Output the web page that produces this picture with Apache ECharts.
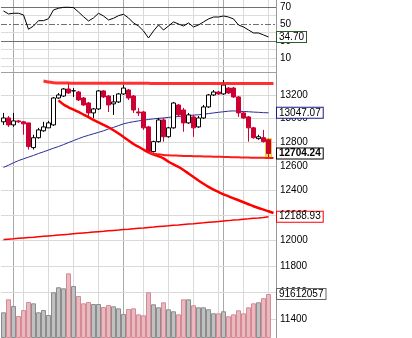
<!DOCTYPE html>
<html><head><meta charset="utf-8">
<script src="https://cdn.jsdelivr.net/npm/echarts@6/dist/echarts.min.js"></script>
<style>html,body{margin:0;padding:0;background:#fff}#c{width:412px;height:338px}</style>
</head><body><div id="c"></div>
<script>
// ---- data ----
const dates = ['02-28','02-29','03-01','03-02','03-05','03-06','03-07','03-08','03-09','03-12','03-13','03-14','03-15','03-16','03-19','03-20','03-21','03-22','03-23','03-26','03-27','03-28','03-29','03-30','04-02','04-03','04-04','04-05','04-09','04-10','04-11','04-12','04-13','04-16','04-17','04-18','04-19','04-20','04-23','04-24','04-25','04-26','04-27','04-30','05-01','05-02','05-03','05-04','05-07','05-08','05-09','05-10','05-11','05-14',' '];
// [open, close, low, high]
const ohlc = [
[12970,13003,12944,13046],[13003,12944,12927,13020],[12944,12978,12927,13046],[12978,12970,12961,12986],
[12970,12953,12861,12978],[12961,12762,12737,12961],[12753,12836,12737,12861],[12836,12902,12828,12919],
[12894,12927,12886,12970],[12919,12961,12919,12978],[12944,13174,12936,13183],[13174,13200,13166,13217],
[13191,13252,13183,13260],[13252,13217,13209,13304],[13235,13237,13183,13260],[13226,13157,13149,13235],
[13174,13114,13106,13183],[13131,13046,13003,13140],[13046,13080,13003,13089],[13080,13235,13071,13243],
[13235,13183,13174,13243],[13191,13114,13054,13200],[13123,13140,13029,13200],[13140,13209,13131,13217],
[13209,13260,13200,13286],[13243,13174,13157,13252],[13191,13071,13046,13200],[13054,13046,13020,13089],
[13054,12919,12902,13063],[12927,12720,12712,12936],[12720,12803,12712,12811],[12803,12986,12795,13003],
[12986,12844,12803,13003],[12844,12919,12836,12927],[12919,13131,12911,13140],[13114,13029,13012,13123],
[13071,12961,12886,13089],[12961,13029,12953,13046],[13012,12919,12844,13029],[12927,13003,12919,13020],
[13003,13097,12995,13114],[13097,13200,13089,13209],[13200,13226,13191,13243],[13226,13209,13200,13235],
[13209,13286,13200,13330],[13260,13217,13209,13269],[13260,13183,13174,13269],[13183,13046,13012,13191],
[13046,13003,12995,13054],[13012,12919,12803,13020],[12919,12836,12828,12927],[12828,12844,12819,12861],
[12836,12803,12795,12902],[12819,12704.24,12671,12828]
];
const volumes = [53500000,80600000,66600000,45800000,58300000,75000000,72200000,53500000,58300000,47900000,
95100000,105600000,103500000,134700000,108300000,87400000,72200000,75000000,70800000,70800000,
64500000,68700000,66000000,61800000,50000000,60400000,61800000,49300000,47300000,95100000,
70200000,63900000,74300000,59800000,55600000,49300000,80600000,80600000,68100000,63900000,
63900000,59800000,51400000,51400000,55600000,45200000,49300000,57700000,51400000,63900000,
72200000,74300000,83000000,91612057];
const rsi = [65.3,61.8,62.6,62.6,60.6,43.8,47.6,53.9,53.9,56.2,66.5,68.5,69.6,69.6,69.2,64.1,58.6,53.5,57.1,62.6,
59.4,54.7,56.7,59.8,61.4,57.1,51.2,47.6,41.8,33.5,41.8,48.8,42.9,47.6,52.4,50.0,47.6,51.2,46.5,48.8,
52.4,55.9,58.2,58.2,59.4,58.2,55.9,48.8,46.5,42.9,39.4,39.4,37.1,34.70];
const maBlue = [12589,12607,12627,12645,12660,12674,12688,12704,12718,12733,12748,12762,12778,12795,12812,12828,12844,12856,12869,12881,
12894,12910,12923,12938,12953,12963,12971,12978,12984,12990,12995,13000,13003,13008,13012,13015,13020,13024,13027,13030,
13035,13040,13046,13051,13056,13061,13063,13061,13058,13056,13053,13051,13048,13047.07];
const ma200 = [12008,12011,12014,12018,12021,12024,12027,12031,12034,12037,12040,12044,12047,12050,12054,12057,12060,12063,12067,12070,
12073,12077,12080,12083,12087,12090,12094,12097,12100,12104,12107,12111,12114,12117,12121,12124,12128,12131,12134,12138,
12141,12145,12148,12151,12155,12158,12162,12165,12169,12172,12176,12179,12183,12188.93];
const arcLine = [null,null,null,null,null,null,null,null,null,null,null,
13153,13118,13094,13074,13054,13032,13010,12987,12966,12945,12924,12899,12872,12842,12813,12783,12760,12736,12713,12696,
12681,12663,12636,12613,12593,12568,12539,12510,12482,12455,12430,12408,12388,12369,12353,12337,12321,12305,12289,12273,
12259,12246,12233,12219];
const supportLine = [null,null,null,null,null,null,null,null,null,null,null,null,null,null,null,null,null,null,null,null,
null,null,null,null,null,null,null,null,null,
12708,12702,12697,12692,12689,12688,12686,12684,12683,12682,12681,12680,12679,12678,12677,12675,12674,12673,12672,12671,
12670,12669,12668,12668,12667,12666];
const resistLine = [null,null,null,null,null,null,null,null,
13321,13312,13307,13304,13303,13303,13302,13302,13302,13302,13301,13301,13301,13301,13301,13301,13301,13301,13301,13301,
13301,13301,13300,13300,13300,13300,13300,13300,13300,13300,13300,13300,13300,13300,13300,13300,13300,13300,13300,13300,
13300,13300,13300,13300,13300,13300,13300];
const priceTicks = [11400,11600,11800,12000,12200,12400,12600,12800,13000,13200];
const rsiTicks = [70,50,30,10];
const rsiGridLevels = [0,10,20,30,40,50,60,70];
const monthDays = ['03-01','04-02','05-01'];
const weekDays = ['03-05','03-12','03-19','03-26','04-09','04-16','04-23','04-30','05-07','05-14'];
const tagTexts = {rsi: '34.70', ma50: '13047.07', close: '12704.24', ma200: '12188.93', vol: '91612057'};

// ---- chart ----
const FONT = '"Liberation Sans", Arial, sans-serif';
const chart = echarts.init(document.getElementById('c'));
const lastIdx = ohlc.length - 1;
const EMPTY = ['-', '-', '-', '-'];
// highlight box spans the whole range (high..low) of the latest candle
const highlightData = ohlc.map((d, i) => i === lastIdx ? [d[3], d[2], d[2], d[3]] : EMPTY);
const volData = volumes.map((v, i) => {
  const up = ohlc[i][1] >= ohlc[i][0];
  return {value: v, itemStyle: up
    ? {color: '#c0c0c0', borderColor: '#8c8c8c', borderWidth: 1}
    : {color: '#e9b9c0', borderColor: '#d68a95', borderWidth: 1}};
});

const vGrid = [
  ...weekDays.map(d => ({xAxis: d, lineStyle: {color: '#d9d9d9', width: 1, type: 'solid'}, label: {show: false}})),
  ...monthDays.map(d => ({xAxis: d, lineStyle: {color: '#a9a9a9', width: 1, type: 'solid'}, label: {show: false}}))
];
const lblStyle = {show: true, position: 'end', distance: 4, color: '#000', fontSize: 10, fontFamily: FONT};
const priceGrid = [
  ...priceTicks.map(v => ({yAxis: v, lineStyle: {color: '#d9d9d9', width: 1, type: 'solid'},
    label: Object.assign({}, lblStyle, {formatter: String(v)})})),
  {yAxis: 13400, lineStyle: {color: '#a0a0a0', width: 1, type: 'solid'}, label: {show: false}}
];
const rsiGrid = rsiGridLevels.map(v => {
  let ls = {color: '#dcdcdc', width: 1, type: 'solid'};
  if (v === 70 || v === 30) ls = {color: '#707070', width: 1, type: 'solid'};
  if (v === 50) ls = {color: '#707070', width: 1, type: [6, 2, 2, 2]};
  return {yAxis: v, lineStyle: ls,
    label: rsiTicks.includes(v) ? Object.assign({}, lblStyle, {formatter: String(v)}) : {show: false}};
});

function gridMark(data) {
  return {silent: true, symbol: ['none', 'none'], animation: false, z: 0, data: data, label: lblStyle};
}
function tagMark(value, text, border, bold) {
  return {silent: true, symbol: ['none', 'none'], animation: false, z: 6,
    lineStyle: {color: 'rgba(0,0,0,0)', width: 0},
    data: [{yAxis: value}],
    label: {show: true, position: 'end', distance: 1, formatter: text, color: '#000',
      fontSize: 10, fontFamily: FONT, fontWeight: bold ? 'bold' : 'normal',
      backgroundColor: '#fff', borderColor: border, borderWidth: 1, padding: [0, 2, 0, 2], lineHeight: 10}};
}

const axisCommon = {type: 'category', data: dates, boundaryGap: true,
  axisLine: {show: false}, axisTick: {show: false}, axisLabel: {show: false}, splitLine: {show: false}};

chart.setOption({
  animation: false,
  backgroundColor: '#ffffff',
  grid: [
    {left: 1, right: 136, top: 0, height: 72},
    {left: 1, right: 136, top: 72, bottom: 0}
  ],
  xAxis: [
    Object.assign({gridIndex: 0}, axisCommon),
    Object.assign({gridIndex: 1}, axisCommon)
  ],
  yAxis: [
    {gridIndex: 0, type: 'value', min: -6.5, max: 78.2, position: 'right',
      axisLine: {show: true, lineStyle: {color: '#999', width: 1}}, axisTick: {show: false},
      axisLabel: {show: false}, splitLine: {show: false}},
    {gridIndex: 1, type: 'log', logBase: 10, min: 11259, max: 13400, position: 'right',
      axisLine: {show: true, lineStyle: {color: '#999', width: 1}}, axisTick: {show: false},
      axisLabel: {show: false}, splitLine: {show: false}, minorTick: {show: false}, minorSplitLine: {show: false}},
    {gridIndex: 1, type: 'value', min: 0, max: 553800000, show: false, splitLine: {show: false}}
  ],
  series: [
    {name: 'rsiGrid', type: 'line', xAxisIndex: 0, yAxisIndex: 0, data: [], z: 0, silent: true,
      markLine: gridMark([...vGrid, ...rsiGrid])},
    {name: 'priceGrid', type: 'line', xAxisIndex: 1, yAxisIndex: 1, data: [], z: 0, silent: true,
      markLine: gridMark([...vGrid, ...priceGrid])},
    {name: 'RSI', type: 'line', xAxisIndex: 0, yAxisIndex: 0, data: rsi, showSymbol: false, z: 3,
      lineStyle: {color: '#000', width: 1}, markLine: tagMark(rsi[lastIdx], tagTexts.rsi, '#2b5b2b', false)},
    {name: 'Volume', type: 'bar', xAxisIndex: 1, yAxisIndex: 2, data: volData, barCategoryGap: '0%', z: 1,
      markLine: tagMark(volumes[lastIdx], tagTexts.vol, '#666666', false)},
    {name: 'MA200', type: 'line', xAxisIndex: 1, yAxisIndex: 1, data: ma200, showSymbol: false, z: 2,
      lineStyle: {color: '#ff0000', width: 1.5}, markLine: tagMark(ma200[lastIdx], tagTexts.ma200, '#ff0000', false)},
    {name: 'MA50', type: 'line', xAxisIndex: 1, yAxisIndex: 1, data: maBlue, showSymbol: false, z: 2,
      lineStyle: {color: '#2a2a9c', width: 1}, markLine: tagMark(maBlue[lastIdx], tagTexts.ma50, '#1a1a8c', false)},
    {name: 'Highlight', type: 'candlestick', xAxisIndex: 1, yAxisIndex: 1, data: highlightData, barWidth: 7, z: 3,
      itemStyle: {color: '#f4e04a', color0: '#f4e04a', borderColor: '#e8cf30', borderColor0: '#e8cf30', borderWidth: 1}},
    {name: 'Price', type: 'candlestick', xAxisIndex: 1, yAxisIndex: 1, data: ohlc, barWidth: 4, z: 4,
      itemStyle: {color: '#ffffff', color0: '#cc0033', borderColor: '#000000', borderColor0: '#cc0033', borderWidth: 1},
      markLine: tagMark(ohlc[lastIdx][1], tagTexts.close, '#000000', true)},
    {name: 'Arc', type: 'line', xAxisIndex: 1, yAxisIndex: 1, data: arcLine, showSymbol: false, smooth: 0.3, z: 5,
      lineStyle: {color: '#ff0000', width: 2.5}},
    {name: 'Support', type: 'line', xAxisIndex: 1, yAxisIndex: 1, data: supportLine, showSymbol: false, smooth: 0.3, z: 5,
      lineStyle: {color: '#ff1a1a', width: 2}},
    {name: 'Resistance', type: 'line', xAxisIndex: 1, yAxisIndex: 1, data: resistLine, showSymbol: false, smooth: 0.3, z: 5,
      lineStyle: {color: '#ff1a1a', width: 3, opacity: 0.9}}
  ]
});
</script>
</body></html>
